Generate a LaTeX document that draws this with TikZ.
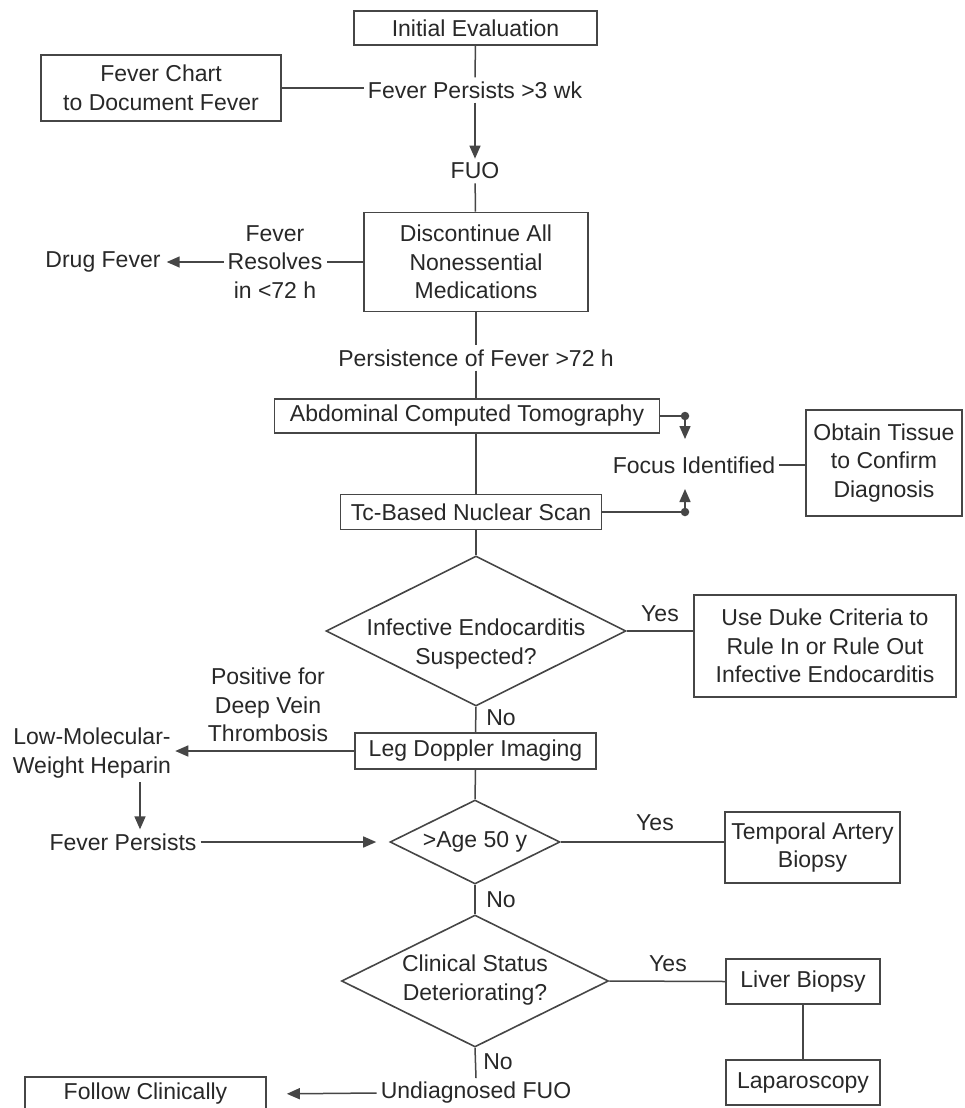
\documentclass[tikz,border=0pt]{standalone}
\usepackage{fontspec}
\setmainfont{Liberation Sans}
\usetikzlibrary{arrows.meta,shapes.geometric,calc}
\definecolor{lc}{RGB}{70,70,70}
\definecolor{txtc}{RGB}{40,40,40}
\tikzset{
  box/.style={draw=lc, line width=1.6pt, fill=white, inner sep=0pt, align=center, text=txtc},
  txt/.style={inner sep=4pt, align=center, text=txtc},
  dia/.style={draw=lc, line width=1.6pt, diamond, inner sep=0pt, fill=white},
  ln/.style={draw=lc, line width=1.5pt},
  arr/.style={ln, -{Triangle[length=13pt,width=11pt]}},
  blob/.style={circle, fill=lc, inner sep=0pt, minimum size=8.5pt},
}
\begin{document}
\begin{tikzpicture}[x=1pt,y=-1pt, font=\fontsize{23}{28.5}\selectfont]
\useasboundingbox[fill=white] (0,0) rectangle (964,1108);

% top
\node[box, minimum width=243pt, minimum height=34pt] (init) at (475.5,28) {Initial Evaluation};
\node[box, minimum width=240pt, minimum height=66pt] (chart) at (161,88) {Fever Chart\\to Document Fever};
\node[txt] (fp3) at (475,90) {Fever Persists >3 wk};
\node[txt] (fuo) at (475,171) {FUO};
\node[box, minimum width=224pt, minimum height=99pt] (disc) at (476,262) {Discontinue All\\Nonessential\\Medications};
\node[txt] (res) at (275,262) {Fever\\Resolves\\in <72 h};
\node[txt] (drug) at (103,262) {Drug Fever};
\node[txt] (pers) at (476,358) {Persistence of Fever >72 h};

% imaging
\node[box, minimum width=385pt, minimum height=34pt] (abd) at (467,416) {Abdominal Computed Tomography};
\node[box, minimum width=261pt, minimum height=35pt] (tcs) at (471,512) {Tc-Based Nuclear Scan};
\node[txt] (focus) at (694,465) {Focus Identified};
\node[box, minimum width=156pt, minimum height=106pt] (tissue) at (884,463) {Obtain Tissue\\to Confirm\\Diagnosis};
\node[blob] (d1) at (685,416) {};
\node[blob] (d2) at (685,512) {};
\coordinate (t1) at (685,439);
\coordinate (t2) at (685,489);

% endocarditis
\node[dia, minimum width=300pt, minimum height=150pt] (ie) at (476,631) {};
\node[txt] (ietxt) at (476,644) {Infective Endocarditis\\Suspected?};
\node[txt] (yes1) at (660,614) {Yes};
\node[box, minimum width=262pt, minimum height=102pt] (duke) at (825,646) {Use Duke Criteria to\\Rule In or Rule Out\\Infective Endocarditis};
\node[txt] (no1) at (501,718) {No};

% leg doppler
\node[box, minimum width=241pt, minimum height=36pt] (leg) at (475.5,751) {Leg Doppler Imaging};
\node[txt] (dvt) at (268,705) {Positive for\\Deep Vein\\Thrombosis};
\node[txt] (lmwh) at (92,753) {Low-Molecular-\\Weight Heparin};
\node[txt] (fp) at (123,842) {Fever Persists};
\coordinate (ax) at (140,800);

% age
\node[dia, minimum width=170pt, minimum height=84pt] (age) at (475,842) {};
\node[txt] (agetxt) at (475,842) {>Age 50 y};
\node[txt] (yes2) at (655,823) {Yes};
\node[box, minimum width=175pt, minimum height=71pt] (temp) at (812.5,847.5) {Temporal Artery\\Biopsy};
\node[txt] (no2) at (501,900) {No};

% clinical
\node[dia, minimum width=267pt, minimum height=132pt] (clin) at (475,981) {};
\node[txt] (clintxt) at (475,980) {Clinical Status\\Deteriorating?};
\node[txt] (yes3) at (668,964) {Yes};
\node[box, minimum width=154pt, minimum height=45pt] (liver) at (803,981.5) {Liver Biopsy};
\node[box, minimum width=154pt, minimum height=45pt] (lap) at (803,1082.5) {Laparoscopy};
\node[txt] (no3) at (498,1062) {No};
\node[txt] (und) at (476,1093) {Undiagnosed FUO};
\node[box, minimum width=241pt, minimum height=34pt] (follow) at (145.5,1094) {Follow Clinically};

% connectors
\draw[ln] (init) -- (fp3);
\draw[ln] (chart.east) -- (chart.east -| fp3.west);
\draw[arr] (fp3) -- (fuo);
\draw[ln] (fuo) -- (disc);
\draw[ln] (disc.west) -- (disc.west -| res.east);
\draw[arr, shorten >=2pt] (res.west |- disc.west) -- (disc.west -| drug.east);
\draw[ln] (disc) -- (pers);
\draw[ln] (pers) -- (pers |- abd.north);
\draw[ln] (abd.south -| pers) -- (tcs.north -| pers);
\draw[ln] (abd.east) -- (d1.center);
\draw[arr] (d1.center) -- (t1);
\draw[ln] (tcs.east) -- (d2.center);
\draw[arr] (d2.center) -- (t2);
\draw[ln] (focus.east) -- (focus.east -| tissue.west);
\draw[ln] (tcs.south -| ie.north) -- (ie.north);
\draw[ln] (ie.east) -- (ie.east -| duke.west);
\draw[ln] (ie.south) -- (leg.north);
\draw[arr] (leg.west) -- (leg.west -| lmwh.east);
\draw[arr] (lmwh.south -| ax) -- (fp.north -| ax);
\draw[arr, shorten >=13pt] (fp.east) -- (age.west);
\draw[ln] (leg.south) -- (age.north);
\draw[ln] (age.east) -- (age.east -| temp.west);
\draw[ln] (age.south) -- (clin.north);
\draw[ln] (clin.east) -- (liver.west);
\draw[ln] (liver.south) -- (lap.north);
\draw[ln] (clin.south) -- (und.north);
\draw[arr, shorten >=20pt] (und.west) -- (follow.east);
\end{tikzpicture}
\end{document}
